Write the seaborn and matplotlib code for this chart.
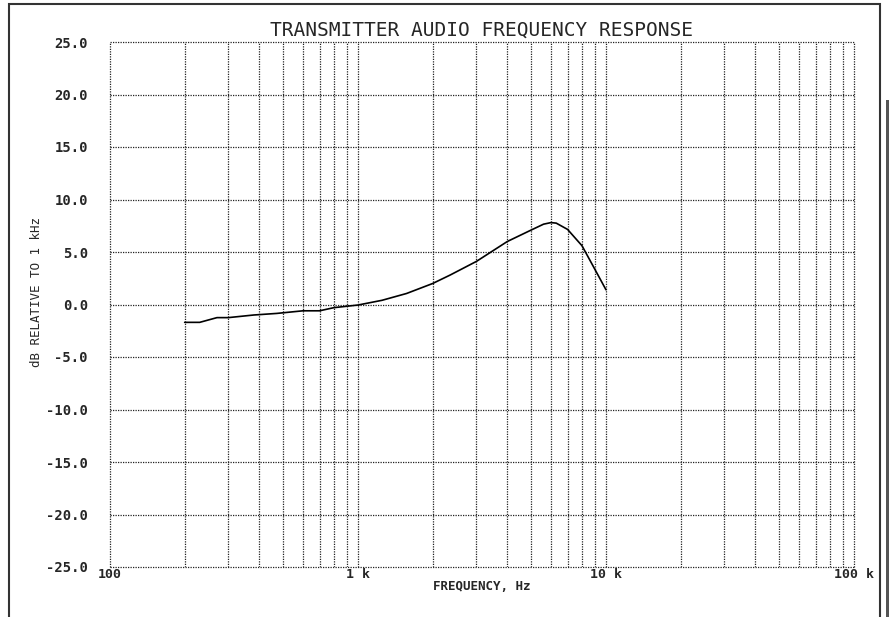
import numpy as np
import pandas as pd
import matplotlib
matplotlib.use('Agg')
import matplotlib.pyplot as plt
import seaborn as sns
from matplotlib.ticker import LogLocator, NullFormatter, FixedLocator
from matplotlib.patches import Rectangle

# ---- DATI ----
freq_hz = [200, 230, 270, 300, 380, 470, 600, 700, 800, 1000, 1250, 1570, 2000,
           2350, 3000, 4000, 5000, 5600, 6000, 6300, 7000, 8000, 8900, 10000]
db_rel = [-1.7, -1.7, -1.25, -1.25, -1.0, -0.85, -0.6, -0.6, -0.3, -0.05, 0.4, 1.05, 2.0,
          2.8, 4.1, 6.0, 7.1, 7.65, 7.8, 7.75, 7.15, 5.6, 3.6, 1.4]

y_ticks = [25, 20, 15, 10, 5, 0, -5, -10, -15, -20, -25]
y_labels = ["25.0", "20.0", "15.0", "10.0", "5.0", "0.0", "-5.0", "-10.0", "-15.0", "-20.0", "-25.0"]
x_ticks = [100, 1000, 10000, 100000]
x_labels = ["100", "1 k", "10 k", "100 k"]

df = pd.DataFrame({"freq": freq_hz, "db": db_rel})

sns.set_style("white")
mono = ["DejaVu Sans Mono", "DejaVu Sans"]

fig = plt.figure(figsize=(8.89, 6.17), dpi=100)
ax = fig.add_axes([110 / 889, 1 - 567 / 617, (854 - 110) / 889, (567 - 42) / 617])

sns.lineplot(data=df, x="freq", y="db", color="black", linewidth=1.2, ax=ax, zorder=3)

ax.set_xscale("log")
ax.set_xlim(100, 100000)
ax.set_ylim(-25, 25)

# griglia punteggiata (anche il bordo)
dot = (0, (1, 1))
ax.xaxis.set_major_locator(FixedLocator(x_ticks))
ax.xaxis.set_minor_locator(LogLocator(base=10, subs=range(2, 10)))
ax.xaxis.set_minor_formatter(NullFormatter())
ax.set_xticklabels(x_labels, family=mono, fontsize=9.5, fontweight="bold")
ax.set_yticks(y_ticks)
ax.set_yticklabels(y_labels, family=mono, fontsize=10, fontweight="bold")
ax.grid(True, which="both", axis="x", color="#222222", linestyle=dot, linewidth=0.9)
ax.grid(True, which="major", axis="y", color="#222222", linestyle=dot, linewidth=0.9)
ax.tick_params(axis="both", which="both", length=0)
ax.tick_params(axis="y", pad=16)
ax.tick_params(axis="x", pad=1)

for s in ax.spines.values():
    s.set_visible(False)
for gl in ax.get_xgridlines() + ax.get_ygridlines():
    gl.set_clip_on(False)

ax.set_xlabel("")
ax.set_ylabel("")

# titoli
fig.text(482 / 889, 1 - 30 / 617, "TRANSMITTER AUDIO FREQUENCY RESPONSE",
         ha="center", va="center", family=mono, fontsize=14)
fig.text(482 / 889, 1 - 587 / 617, "FREQUENCY, Hz",
         ha="center", va="center", family=mono, fontsize=9, fontweight="bold")
fig.text(37 / 889, 1 - 292 / 617, "dB RELATIVE TO 1 kHz", rotation=90,
         ha="center", va="center", family=mono, fontsize=9)

# cornice esterna
fig.patches.append(Rectangle((9 / 889, -0.02), (880 - 9) / 889, 0.02 + 1 - 4 / 617,
                             transform=fig.transFigure, fill=False,
                             edgecolor="#333333", linewidth=1.5))
fig.patches.append(Rectangle((886 / 889, 0), 3 / 889, 1 - 100 / 617,
                             transform=fig.transFigure, facecolor="#555555",
                             edgecolor="none"))

fig.savefig("out.png", dpi=100)
